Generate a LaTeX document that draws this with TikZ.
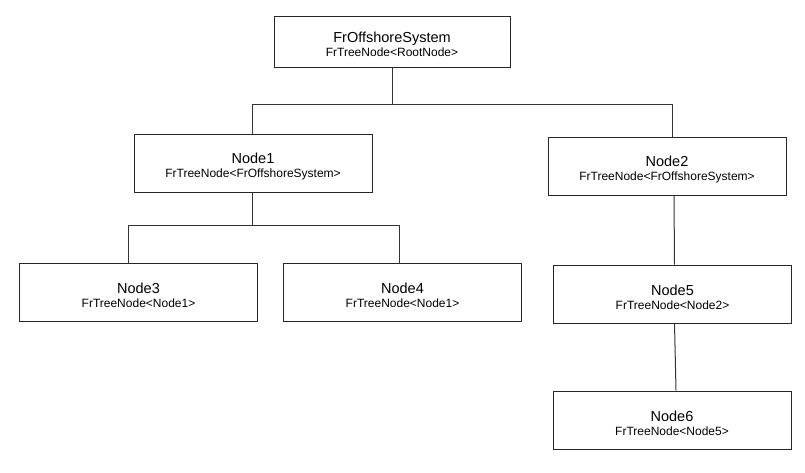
\documentclass[tikz,border=0pt]{standalone}
\usepackage{fontspec}
\setmainfont{Liberation Sans}
\usetikzlibrary{calc,positioning}
\tikzset{
  treebox/.style = {draw=black!85, line width=1pt, rectangle, align=center, inner sep=0pt,
    minimum width=238pt, minimum height=58pt, font=\fontsize{12}{14}\selectfont},
  rootbox/.style = {treebox, minimum width=236pt, minimum height=51pt},
  link/.style = {draw=black!80, line width=1pt}
}
\newcommand{\ttl}[1]{{\fontsize{14.5}{14}\selectfont\rule{0pt}{16.5pt}#1}}

\begin{document}
\begin{tikzpicture}[x=1pt, y=-1pt]
  \useasboundingbox (0,0) rectangle (805,472);

  \node[rootbox] (root)  at (392,41.5)  {\ttl{FrOffshoreSystem}\\FrTreeNode<RootNode>};
  \node[treebox] (node1) at (253,163.5) {\ttl{Node1}\\FrTreeNode<FrOffshoreSystem>};
  \node[treebox] (node2) at (667,166)   {\ttl{Node2}\\FrTreeNode<FrOffshoreSystem>};
  \node[treebox] (node3) at (138.5,292.5) {\ttl{Node3}\\FrTreeNode<Node1>};
  \node[treebox] (node4) at (402.5,292.5) {\ttl{Node4}\\FrTreeNode<Node1>};
  \node[treebox] (node5) at (672.5,294) {\ttl{Node5}\\FrTreeNode<Node2>};
  \node[treebox] (node6) at (672,420)   {\ttl{Node6}\\FrTreeNode<Node5>};

  \coordinate (j1) at (392,104);
  \coordinate (j2) at (252,225);

  \path[link] (root.south) -- (j1);
  \path[link] (j1) -| ([xshift=-1pt]node1.north);
  \path[link] (j1) -| ([xshift=5pt]node2.north);

  \path[link] ([xshift=-1pt]node1.south) -- (j2);
  \path[link] (j2) -| ([xshift=-10pt]node3.north);
  \path[link] (j2) -| ([xshift=-3.5pt]node4.north);

  \path[link] ([xshift=7pt]node2.south) -- ([xshift=2pt]node5.north);
  \path[link] ([xshift=2pt]node5.south) -- ([xshift=4pt]node6.north);
\end{tikzpicture}
\end{document}
